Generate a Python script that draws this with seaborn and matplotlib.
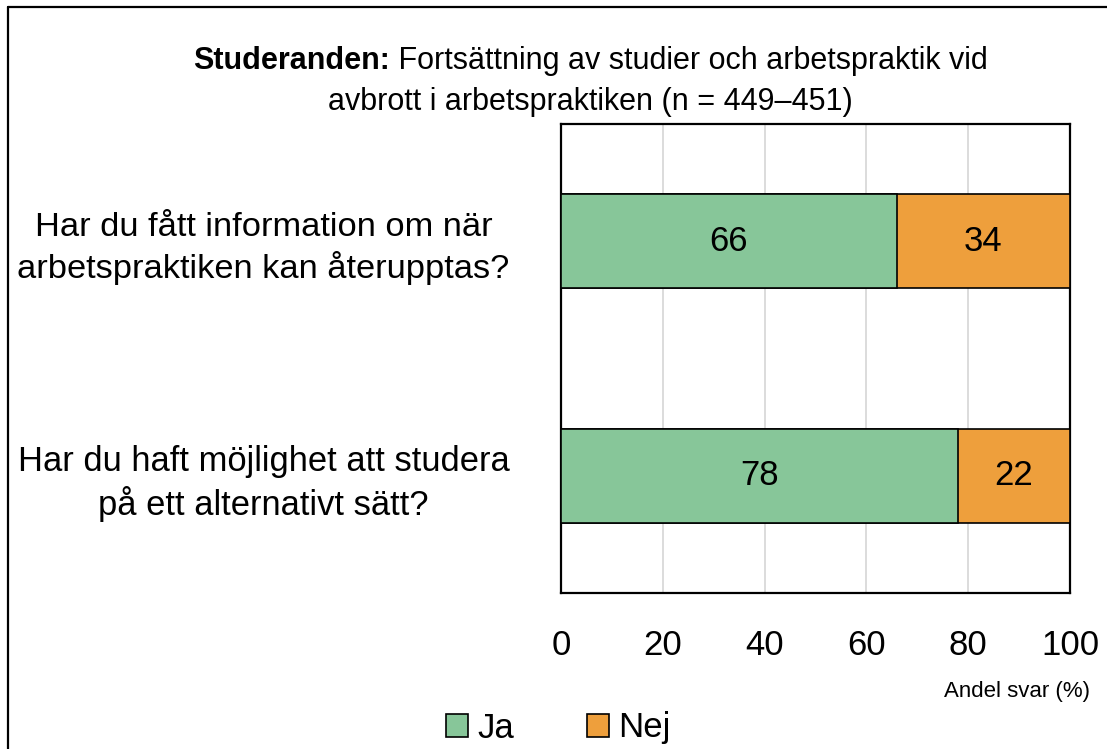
import matplotlib
matplotlib.use("Agg")
import matplotlib.pyplot as plt
from matplotlib.patches import Patch
from matplotlib.lines import Line2D
import seaborn as sns
import pandas as pd

# ---- data ----
questions = [
    "Har du fått information om när\narbetspraktiken kan återupptas?",
    "Har du haft möjlighet att studera\npå ett alternativt sätt?",
]
ja = [66, 78]
nej = [34, 22]
series_names = ["Ja", "Nej"]
x_ticks = [0, 20, 40, 60, 80, 100]
title_bold = "Studeranden:"
title_rest = " Fortsättning av studier och arbetspraktik vid"
title_line2 = "avbrott i arbetspraktiken (n = 449–451)"
x_label = "Andel svar (%)"

GREEN = "#87C699"
ORANGE = "#EE9F3C"

sns.set_theme(style="white")
plt.rcParams["font.family"] = ["Liberation Sans", "DejaVu Sans"]
plt.rcParams["text.color"] = "black"
plt.rcParams["xtick.color"] = "black"
plt.rcParams["ytick.color"] = "black"

df = pd.DataFrame({"fråga": questions, "Ja": ja, "Nej": nej})
df["Totalt"] = df["Ja"] + df["Nej"]

W, H = 1107, 749
fig = plt.figure(figsize=(W / 100, H / 100), dpi=100)
ax = fig.add_axes([561 / W, 1 - 593 / H, (1070 - 561) / W, (593 - 124) / H])

sns.barplot(data=df, x="Totalt", y="fråga", color=ORANGE, saturation=1,
            edgecolor="black", linewidth=1.2, width=0.4, ax=ax, zorder=3)
sns.barplot(data=df, x="Ja", y="fråga", color=GREEN, saturation=1,
            edgecolor="black", linewidth=1.2, width=0.4, ax=ax, zorder=3)

for i, (a, b) in enumerate(zip(ja, nej)):
    ax.text(a / 2, i, str(a), ha="center", va="center", fontsize=25, zorder=5)
    ax.text(a + b / 2, i, str(b), ha="center", va="center", fontsize=25, zorder=5)

ax.set_xlim(0, 100)
ax.set_ylim(1.5, -0.5)
ax.set_xticks(x_ticks)
ax.set_xticklabels([str(t) for t in x_ticks], fontsize=25)
ax.tick_params(axis="x", length=0, pad=26)
ax.tick_params(axis="y", length=0, pad=37)
for lab in ax.get_yticklabels():
    lab.set_fontsize(29)
    lab.set_multialignment("center")
    lab.set_linespacing(1.3)
ax.set_xlabel("")
ax.set_ylabel("")
ax.grid(axis="x", color="#D9D9D9", linewidth=1.3, zorder=0)
ax.set_axisbelow(True)
for s in ax.spines.values():
    s.set_visible(True)
    s.set_color("black")
    s.set_linewidth(1.6)

fig.text(1090 / W, 1 - 691 / H, x_label, ha="right", va="center", fontsize=16)

fig.canvas.draw()
r = fig.canvas.get_renderer()
# fit category labels to the reference width
for lab in ax.get_yticklabels():
    w = lab.get_window_extent(r).width
    lab.set_fontsize(29 * 492 / w)

# title with bold lead-in, centred as one line
t1 = fig.text(0, 1 - 61 / H, title_bold, fontweight="bold", fontsize=22, va="center")
t2 = fig.text(0, 1 - 61 / H, title_rest, fontsize=22, va="center")
w1 = t1.get_window_extent(r).width
w2 = t2.get_window_extent(r).width
x0 = 590 - (w1 + w2) / 2
t1.set_x(x0 / W)
t2.set_x((x0 + w1) / W)
fig.text(590 / W, 1 - 102 / H, title_line2, ha="center", va="center", fontsize=22)

handles = [Patch(facecolor=GREEN, edgecolor="black", linewidth=1.2),
           Patch(facecolor=ORANGE, edgecolor="black", linewidth=1.2)]
fig.legend(handles, series_names, loc="center", bbox_to_anchor=(558 / W, 1 - 728 / H),
           ncol=2, frameon=False, fontsize=25, handlelength=0.65, handleheight=0.65,
           handletextpad=0.25, columnspacing=2.1, borderpad=0)

fig.add_artist(Line2D([8 / W, 8 / W], [0, 1 - 7 / H], color="black", linewidth=1.6))
fig.add_artist(Line2D([8 / W, 1], [1 - 7 / H, 1 - 7 / H], color="black", linewidth=1.6))

fig.savefig("out.png", dpi=100)
